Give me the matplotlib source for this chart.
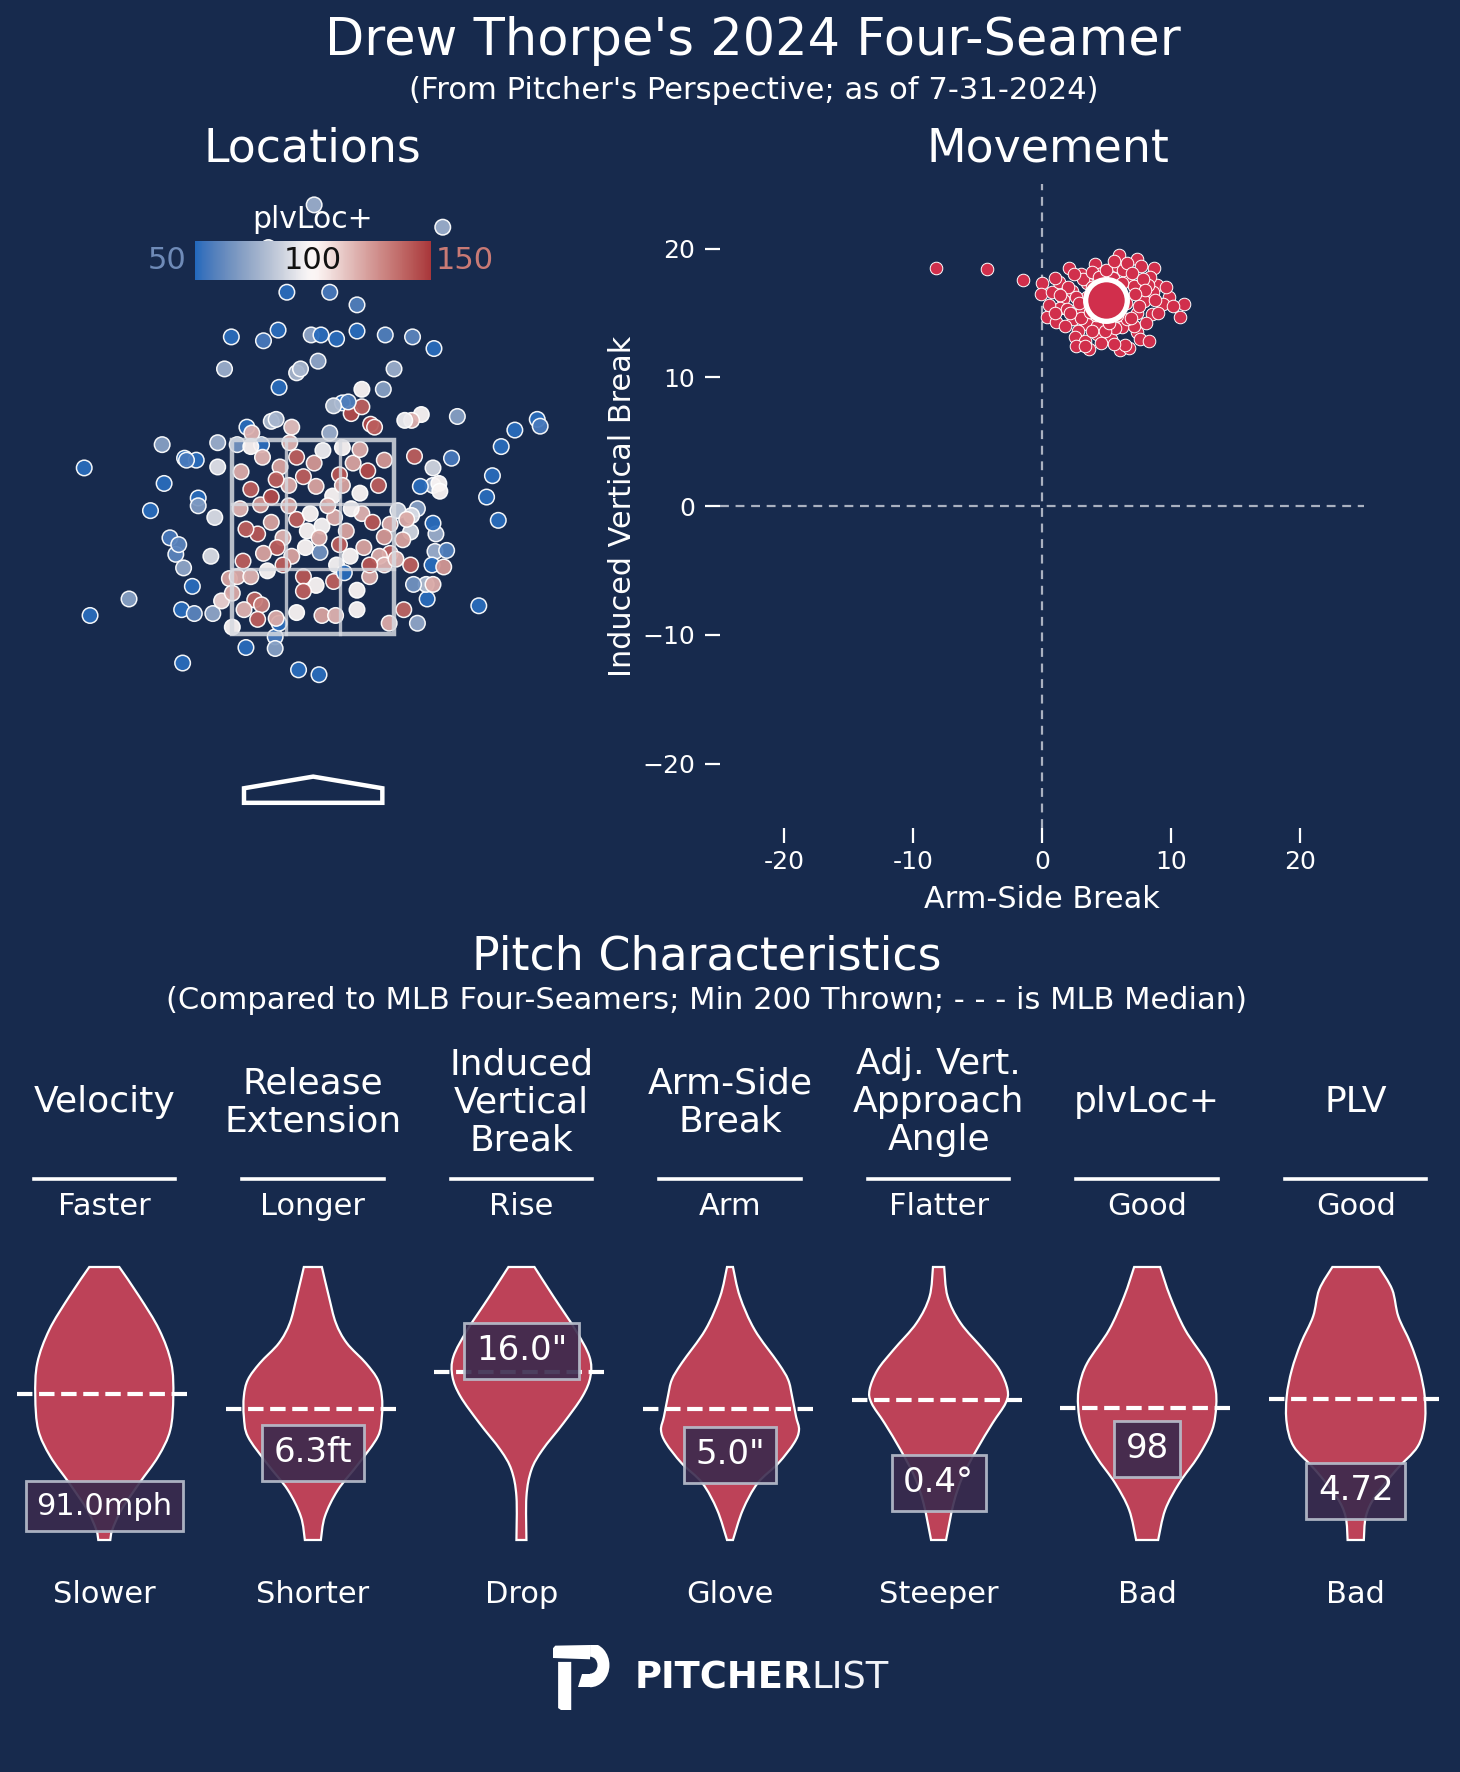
import numpy as np
import matplotlib
matplotlib.use("Agg")
import matplotlib.pyplot as plt
import seaborn as sns
from matplotlib.path import Path
from matplotlib.patches import PathPatch, Rectangle, Wedge, Polygon
from matplotlib.lines import Line2D
from matplotlib.colors import Normalize
from matplotlib.cm import ScalarMappable

plt.rcParams['font.family'] = ['DejaVu Sans']

BG = '#172a4d'
RED = '#d12f4c'
VIOLIN = '#bd4258'

# ---------------- data ----------------
loc_x = [0.01, 1.33, -0.46, -0.27, 0.17, 0.45, -0.84, -0.51, -0.36, -0.02, 0.08, 0.24, 0.45, 0.74, 1.02, 1.24,
         -0.91, -0.17, -0.13, 0.05, 0.83, -0.35, 0.50, 0.30, 0.72, 1.48, 1.11, 1.01, 0.59, 0.39, 0.50, 0.94,
         2.30, 2.33, 2.07, 1.93, -0.43, -0.22, 0.17, -0.98, -0.53, -1.32, -1.20, -2.35, -1.55, 1.42, 1.84, 1.78,
         1.90, -1.67, -1.53, -1.47, -1.41, -1.33, -1.24, -1.05, -1.18, -1.18, -1.01, -1.89, -2.29, -1.35, -1.22,
         -1.03, -1.34, -0.69, -0.39, -0.15, 0.06, -0.35, 1.07, 1.17, 1.70, 1.25, 1.37, 1.22, 1.16, 1.23, 1.34,
         1.03, 1.23, 1.29, 1.10, 1.26, 1.23, 0.87, 0.79, -0.68, -0.78, -1.30, 0.36, 0.21, 0.63, -1.38, -0.98,
         -0.39, -0.94, -0.60, -0.53, -0.86, 1.23, 1.30, 1.04, 1.07, 1.01, 1.00, 0.93, -0.63, -0.38,
         -0.74, -0.64, -0.54, -0.75, -0.43, -0.25, -0.10, 0.03, 0.20, 0.27, 0.41, 0.56, 0.67, 0.73, 0.48, 0.30,
         0.01, -0.17, -0.34, -0.52, -0.64, -0.24, 0.10, -0.43, -0.57, -0.69, -0.31, -0.17, -0.06, 0.09, 0.22,
         0.34, 0.50, 0.61, 0.73, 0.79, 0.68, 0.52, 0.38, 0.24, 0.07, -0.08, -0.22, -0.37, -0.51, -0.72, -0.78,
         -0.64, -0.47, -0.31, -0.10, 0.03, 0.21, 0.32, 0.45, 0.58, 0.73, -0.83, -0.71, -0.57, -0.38, -0.10,
         0.09, 0.23, 0.45, 0.78, -0.83, -0.17, -0.03, 0.15, -0.25, -0.38, 0.48, 0.30, 0.39, 0.06, 0.27, 0.58,
         0.96, 0.92, 1.00, 0.85]
loc_z = [5.92, 5.69, 5.48, 5.02, 5.02, 4.89, 4.56, 4.52, 4.63, 4.58, 4.58, 4.54, 4.62, 4.58, 4.56, 4.44,
         4.23, 4.19, 4.23, 4.31, 4.23, 4.04, 4.02, 3.88, 4.02, 3.74, 3.76, 3.70, 3.66, 3.77, 3.84, 3.70,
         3.71, 3.64, 3.60, 3.43, 3.69, 3.63, 3.57, 3.47, 3.45, 3.31, 3.29, 3.21, 3.45, 3.31, 3.13, 2.91,
         2.67, 2.77, 3.05, 2.49, 2.32, 2.18, 1.99, 2.30, 2.90, 2.82, 2.70, 1.86, 1.69, 1.75, 1.71,
         1.71, 1.20, 1.36, 1.47, 1.13, 1.08, 1.61, 1.61, 1.86, 1.79, 2.35, 2.36, 2.21, 2.01, 2.01, 2.19,
         2.01, 3.03, 3.05, 3.02, 2.53, 2.64, 2.77, 2.63, 3.63, 3.45, 3.29, 3.89, 3.85, 3.63, 2.42, 3.22,
         1.35, 1.84, 1.85, 1.80, 2.07, 3.21, 2.97, 3.33, 2.79, 2.72, 2.55, 1.75, 3.57, 3.71,
         3.17, 2.99, 2.83, 2.79, 2.91, 3.03, 3.12, 3.02, 2.92, 3.14, 3.26, 3.18, 3.03, 3.29, 3.40, 3.42,
         3.26, 3.32, 3.22, 3.32, 3.43, 3.47, 3.39, 2.65, 2.53, 2.58, 2.49, 2.68, 2.56, 2.61, 2.70,
         2.56, 2.74, 2.65, 2.50, 2.33, 2.30, 2.39, 2.30, 2.21, 2.34, 2.39, 2.30, 2.39, 2.33, 2.25, 2.09,
         2.09, 2.15, 2.21, 2.09, 2.00, 2.04, 2.13, 1.95, 2.09, 2.21, 1.92, 1.75, 1.65, 1.66, 1.94,
         1.69, 1.69, 1.75, 1.61, 1.57, 1.72, 2.74, 2.82, 2.82, 3.09, 2.95, 3.03, 2.79, 2.49, 2.42, 2.21,
         2.68, 2.47, 2.21, 2.27]
loc_plv = [75, 75, 80, 51, 56, 58, 51, 56, 51, 72, 51, 51, 51, 58, 60, 51,
           75, 78, 78, 72, 75, 51, 100, 51, 70, 70, 100, 118, 145, 145, 140, 95,
           51, 56, 51, 51, 80, 115, 75, 75, 51, 51, 51, 51, 70, 56, 51, 51,
           51, 51, 51, 56, 60, 72, 51, 90, 51, 68, 90, 70, 51, 51, 60,
           72, 51, 51, 56, 51, 51, 51, 72, 51, 51, 75, 58, 51, 80, 120, 125,
           65, 75, 100, 51, 75, 51, 85, 120, 51, 65, 56, 58, 80, 140, 60, 92,
           70, 110, 138, 132, 122, 88, 100, 140, 70, 90, 88, 138, 118, 78,
           120, 140, 125, 118, 145, 120, 140, 122, 100, 142, 122, 145, 140, 125, 120, 100,
           125, 140, 122, 118, 102, 118, 95, 122, 142, 140, 118, 140, 100, 98, 120,
           122, 118, 142, 125, 140, 120, 122, 100, 98, 65, 100, 122, 140, 122, 140, 120,
           118, 100, 140, 142, 100, 140, 51, 100, 120, 118, 120, 118, 140, 120, 140,
           122, 118, 100, 120, 100, 100, 100, 120, 122, 140, 100, 122, 100, 120, 140, 142,
           120, 122, 140, 118]

zone_x = [-0.83, 0.83]
zone_z = [1.5, 3.5]
plate_x = [-0.71, 0.71, 0.71, 0.0, -0.71]
plate_z = [-0.24, -0.24, -0.09, 0.03, -0.09]

pfx_x = [-8.2, -4.3, -1.50, 0.0, -0.1, 0.8, 1.35, 2.12, 3.0, 4.1, 5.98, 5.8, 7.4, 8.7, 7.66, 6.7, 4.63, 7.6,
         8.95, 8.6, 9.86, 9.4, 11.05, 10.7, 8.5, 7.35, 7.9, 0.36, 1.1, 1.65, 1.4, 2.3, 3.08, 2.43, 3.5, 2.82,
         2.56, 3.34, 3.68, 2.64, 4.24, 5.33, 6.05, 6.78, 7.4, 7.1, 6.2, 4.76, 6.57, 3.86, 3.47, 5.54, 6.3,
         8.4, 8.25, 7.1, 4.76, 1.92, 1.0, 4.24, 5.67, 7.5, 4.5, 5.5, 4.0, 6.0, 5.2, 4.8, 6.5, 3.5, 5.8, 4.2,
         2.0, 2.6, 3.2, 3.9, 4.4, 5.0, 5.6, 6.6, 7.0, 7.8, 8.0, 8.8, 9.0, 8.1, 7.6, 6.4, 5.6, 4.6, 3.9, 3.0,
         2.2, 1.8, 2.9, 3.3, 4.9, 5.2, 6.9, 7.2, 6.2, 3.7, 4.4, 6.0, 3.9, 2.5, 1.4, 0.5, 1.0, 9.6, 10.2, 8.3]
pfx_z = [18.5, 18.4, 17.54, 17.35, 16.5, 16.6, 17.4, 18.5, 18.0, 18.8, 19.5, 18.65, 19.2, 18.5, 18.65, 17.75,
         18.1, 17.2, 17.2, 16.6, 16.2, 15.7, 15.67, 14.7, 14.9, 15.0, 15.9, 14.7, 14.3, 16.06, 15.4, 16.7,
         15.2, 14.5, 14.1, 13.6, 13.1, 12.8, 12.2, 12.4, 13.35, 13.0, 12.1, 12.3, 13.5, 14.0, 13.9, 14.5,
         14.5, 16.8, 17.3, 17.7, 18.3, 17.75, 17.2, 17.1, 17.5, 15.28, 17.7, 14.0, 13.8, 15.5, 16.5, 15.5,
         15.8, 16.5, 17.0, 15.2, 15.8, 16.2, 14.8, 14.8,
         17.0, 16.2, 17.6, 18.2, 17.8, 18.3, 19.0, 18.9, 18.1, 17.6, 16.8, 16.0, 15.0, 14.2, 13.0, 12.5,
         12.6, 12.7, 13.6, 14.6, 15.0, 14.0, 15.8, 12.4, 13.6, 14.2, 14.6, 16.5, 17.3, 15.1, 16.0, 15.2,
         17.0, 18.0, 16.4, 15.6, 15.0, 17.0, 15.5, 12.8]
pfx_mean_x = [5.0]
pfx_mean_z = [16.0]

mv_ticks = [-20, -10, 0, 10, 20]
mv_xticklabels = ['-20', '-10', '0', '10', '20']

metric_names = ['Velocity', 'Release\nExtension', 'Induced\nVertical\nBreak', 'Arm-Side\nBreak',
                'Adj. Vert.\nApproach\nAngle', 'plvLoc+', 'PLV']
metric_top = ['Faster', 'Longer', 'Rise', 'Arm', 'Flatter', 'Good', 'Good']
metric_bottom = ['Slower', 'Shorter', 'Drop', 'Glove', 'Steeper', 'Bad', 'Bad']
metric_value = [91.0, 6.3, 16.0, 5.0, 0.4, 98, 4.72]
metric_label = ['91.0mph', '6.3ft', '16.0"', '5.0"', '0.4°', '98', '4.72']
metric_min = [90.1, 5.9, 7.0, 0.0, -0.5, 93.6, 4.57]
metric_max = [97.4, 7.15, 20.0, 16.0, 3.8, 106.8, 5.40]
metric_median = [94.0, 6.5, 15.0, 7.7, 1.7, 100.0, 5.00]

# violin profiles: relative position in range (0 = min, 1 = max) and density (arbitrary units)
violin_levels = [
    [0, .037, .110, .208, .306, .403, .526, .648, .770, .892, 1.0],
    [0, .086, .183, .281, .379, .452, .526, .587, .648, .721, .795, .892, 1.0],
    [0, .159, .257, .330, .428, .526, .599, .672, .770, .892, 1.0],
    [0, .110, .208, .281, .355, .403, .452, .526, .587, .648, .770, .892, 1.0],
    [0, .134, .232, .330, .428, .501, .550, .623, .697, .795, .892, 1.0],
    [0, .110, .208, .306, .403, .489, .562, .648, .770, .892, 1.0],
    [0, .086, .159, .257, .342, .428, .526, .623, .721, .819, .917, 1.0],
]
violin_density = [
    [6, 8, 17, 35, 54, 66, 69, 67, 55, 35, 15],
    [8, 12, 25, 46, 65, 69, 69, 65, 53, 34, 23, 16, 9],
    [5, 5, 10, 21, 42, 61, 69, 68, 54, 32, 13],
    [3, 13, 28, 49, 65, 70, 67, 63, 59, 49, 25, 10, 3],
    [7.5, 15, 24, 38, 54, 67, 69, 61, 45, 22, 9, 5.6],
    [11, 18, 32, 51, 65, 69, 68, 60, 38, 23, 13],
    [8, 10, 19, 40, 61, 68, 68, 63, 54, 42, 36, 23],
]

# ---------------- figure ----------------
fig = plt.figure(figsize=(14.6, 17.72), dpi=100)
fig.patch.set_facecolor(BG)

fig.text(0.516, 0.977, "Drew Thorpe's 2024 Four-Seamer", ha='center', va='center', color='white',
         fontsize=36.7)
fig.text(0.516, 0.949, "(From Pitcher's Perspective; as of 7-31-2024)", ha='center', va='center',
         color='white', fontsize=22.1)
fig.text(0.2137, 0.916, "Locations", ha='center', va='center', color='white', fontsize=33)
fig.text(0.718, 0.916, "Movement", ha='center', va='center', color='white', fontsize=33)

# ---- Locations ----
ax_loc = fig.add_axes([0.041, 0.5327, 0.347, 0.3725])
ax_loc.set_facecolor(BG)
ax_loc.set_xlim(-2.6, 2.6)
ax_loc.set_ylim(-0.5, 6.3)
ax_loc.axis('off')
cmap = sns.color_palette("vlag", as_cmap=True)
norm = Normalize(50, 150)
ax_loc.scatter(loc_x, loc_z, c=loc_plv, cmap=cmap, norm=norm, s=125, edgecolor='white',
               linewidth=1.1, alpha=0.95, zorder=3)
zx0, zx1 = zone_x
zz0, zz1 = zone_z
zc = '#d6d9e0'
ax_loc.add_patch(Rectangle((zx0, zz0), zx1 - zx0, zz1 - zz0, fill=False, edgecolor=zc, lw=3.2,
                           alpha=0.85, zorder=4))
for k in (1, 2):
    xv = zx0 + (zx1 - zx0) * k / 3
    zv = zz0 + (zz1 - zz0) * k / 3
    ax_loc.plot([xv, xv], [zz0, zz1], color=zc, lw=2.4, alpha=0.8, zorder=4)
    ax_loc.plot([zx0, zx1], [zv, zv], color=zc, lw=2.4, alpha=0.8, zorder=4)
ax_loc.add_patch(Polygon(np.column_stack([plate_x, plate_z]), closed=True, fill=False,
                         edgecolor='white', lw=3.2, zorder=4))

# colorbar
cax = fig.add_axes([0.1336, 0.842, 0.1616, 0.022])
cb = fig.colorbar(ScalarMappable(norm=norm, cmap=cmap), cax=cax, orientation='horizontal')
cb.set_ticks([])
cb.outline.set_visible(False)
fig.text(0.2144, 0.8712, "plvLoc+", ha='center', va='baseline', color='white', fontsize=21.5)
fig.text(0.1336 - 0.006, 0.853, "50", ha='right', va='center', color='#6f8bb8', fontsize=22)
fig.text(0.2144, 0.853, "100", ha='center', va='center', color='#111111', fontsize=22)
fig.text(0.1336 + 0.1616 + 0.003, 0.853, "150", ha='left', va='center', color='#c97a75', fontsize=22)

# ---- Movement ----
ax_mv = fig.add_axes([0.4932, 0.5327, 0.4411, 0.3634])
ax_mv.set_facecolor(BG)
ax_mv.set_xlim(-25, 25)
ax_mv.set_ylim(-25, 25)
for sp in ax_mv.spines.values():
    sp.set_visible(False)
ax_mv.axhline(0, color='#aab1c0', lw=1.6, ls=(0, (4, 3)), zorder=1)
ax_mv.axvline(0, color='#aab1c0', lw=1.6, ls=(0, (4, 3)), zorder=1)
ax_mv.scatter(pfx_x, pfx_z, s=82, color=RED, edgecolor='white', linewidth=0.7, zorder=3)
ax_mv.scatter(pfx_mean_x, pfx_mean_z, s=900, color=RED, edgecolor='white', linewidth=3.8, zorder=4)
ax_mv.set_xticks(mv_ticks)
ax_mv.set_xticklabels(mv_xticklabels)
ax_mv.set_yticks(mv_ticks)
ax_mv.tick_params(colors='white', labelsize=18, length=11, width=1.6)
ax_mv.tick_params(axis='x', pad=5)
ax_mv.tick_params(axis='y', pad=7)
ax_mv.set_xlabel("Arm-Side Break", color='white', fontsize=21.8, labelpad=8)
ax_mv.set_ylabel("Induced Vertical Break", color='white', fontsize=21.8, labelpad=4)

# ---- Pitch characteristics ----
fig.text(0.4838, 0.460, "Pitch Characteristics", ha='center', va='center', color='white', fontsize=33)
fig.text(0.4838, 0.4356, "(Compared to MLB Four-Seamers; Min 200 Thrown; - - - is MLB Median)",
         ha='center', va='center', color='white', fontsize=22)


def smooth_path(right_pts):
    """closed smooth outline (Catmull-Rom -> cubic Bezier) mirrored about x=0"""
    def side(pts):
        verts, codes = [], []
        n = len(pts)
        for i in range(n - 1):
            p0 = pts[max(i - 1, 0)]
            p1 = pts[i]
            p2 = pts[i + 1]
            p3 = pts[min(i + 2, n - 1)]
            c1 = p1 + (p2 - p0) / 6.0
            c2 = p2 - (p3 - p1) / 6.0
            verts += [c1, c2, p2]
            codes += [Path.CURVE4] * 3
        return verts, codes
    R = np.array(right_pts, dtype=float)
    L = R[::-1].copy()
    L[:, 0] *= -1
    v1, c1 = side(R)
    v2, c2 = side(L)
    verts = [R[0]] + v1 + [L[0]] + v2 + [R[0]]
    codes = [Path.MOVETO] + c1 + [Path.LINETO] + c2 + [Path.CLOSEPOLY]
    return Path(np.array(verts), codes)


n_m = len(metric_names)
half_span = (1460 / n_m / 2) / 69.0
for i in range(n_m):
    cx = (i + 0.5) / n_m
    ax = fig.add_axes([i / n_m, 0.13093, 1 / n_m, 0.15406])
    ax.set_facecolor('none')
    ax.axis('off')
    vmin, vmax = metric_min[i], metric_max[i]
    ax.set_xlim(-half_span, half_span)
    ax.set_ylim(vmin, vmax)
    lev = np.array(violin_levels[i])
    dens = np.array(violin_density[i], dtype=float)
    dens = dens / dens.max()
    yv = vmin + lev * (vmax - vmin)
    path = smooth_path(np.column_stack([dens, yv]))
    ax.add_patch(PathPatch(path, facecolor=VIOLIN, edgecolor='white', lw=1.6, zorder=2, clip_on=False))
    ax.plot([-1.26, 1.26], [metric_median[i]] * 2, color='white', lw=3, ls='--', zorder=3,
            clip_on=False)
    lab = metric_label[i]
    fs = 22 if len(lab) > 5 else 24.5
    ax.text(0, metric_value[i], lab, ha='center', va='center', color='white', fontsize=fs,
            zorder=5, clip_on=False,
            bbox=dict(boxstyle='square,pad=0.34', facecolor='#3a2a4d', alpha=0.9,
                      edgecolor='#b9c0cd', lw=2))
    # headers
    fig.text(cx, 0.378, metric_names[i], ha='center', va='center', color='white', fontsize=26,
             linespacing=1.15, multialignment='center')
    fig.add_artist(Line2D([cx - 0.0484, cx + 0.0484], [0.3348, 0.3348], transform=fig.transFigure,
                          color='white', lw=2.6))
    fig.text(cx, 0.3189, metric_top[i], ha='center', va='center', color='white', fontsize=22)
    fig.text(cx, 0.1001, metric_bottom[i], ha='center', va='center', color='white', fontsize=22)

# ---- logo ----
lax = fig.add_axes([553 / 1460, 1 - 1710 / 1772, 57 / 1460, 65 / 1772])
lax.set_xlim(0, 1)
lax.set_ylim(0, 1)
lax.axis('off')
lax.add_patch(Polygon([[0.0, 0.80], [0.0, 0.95], [0.04, 0.99], [0.65, 1.0], [0.65, 0.78]],
                      closed=True, color='white', lw=0))
lax.add_patch(Wedge((0.65, 0.69), 0.34, -90, 90, width=0.21, color='white', lw=0))
lax.add_patch(Polygon([[0.44, 0.35], [0.66, 0.35], [0.66, 0.56], [0.50, 0.56]], closed=True,
                      color='white', lw=0))
lax.add_patch(Polygon([[0.09, 0.03], [0.14, 0.0], [0.32, 0.0], [0.32, 0.74], [0.09, 0.74]],
                      closed=True, color='white', lw=0))
t1 = fig.text(635 / 1460, 0.053, "PITCHER", ha='left', va='center', color='white', fontsize=26.6,
              fontweight='bold')
lax.annotate("LIST", xy=(1, 0), xycoords=t1, xytext=(-1, 0), textcoords='offset points',
             ha='left', va='bottom', color='#f2f4f8', fontsize=26.6, fontweight='normal',
             annotation_clip=False)

fig.savefig("out.png", dpi=100, facecolor=BG)
